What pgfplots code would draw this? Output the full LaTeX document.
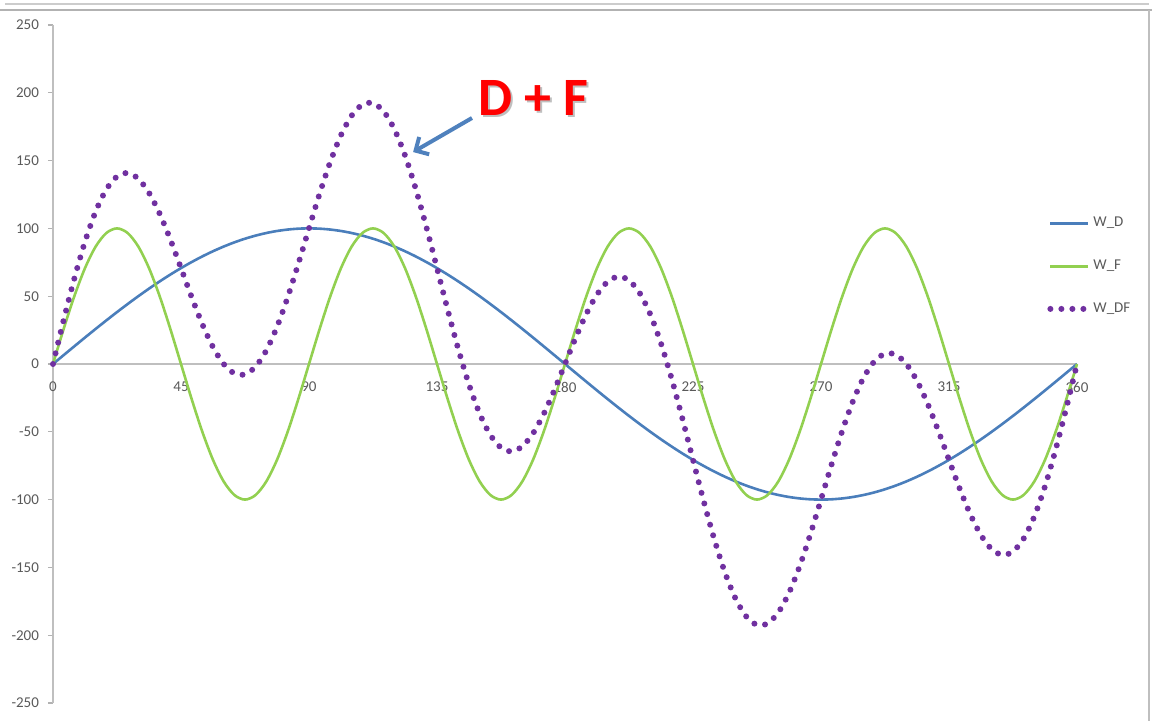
\documentclass[border=0pt]{standalone}
\usepackage{pgfplots}
\pgfplotsset{compat=1.18}
\usepackage{pgfplotstable}
\usepackage{fontspec}
\setmainfont{Carlito}
\usetikzlibrary{arrows.meta}

\definecolor{wdblue}{HTML}{4A7EBB}
\definecolor{wfgreen}{HTML}{92D050}
\definecolor{wdfpurple}{HTML}{7030A0}
\definecolor{arrowblue}{HTML}{4F81BD}
\definecolor{ticktext}{HTML}{595959}

% x in degrees, W_D, W_F and their sum W_DF
\pgfplotstableread{
x D F DF
0 0 0 0
3.75 6.54 25.88 32.42
7.5 13.05 50 63.05
11.25 19.51 70.71 90.22
15 25.88 86.60 112.48
18.75 32.14 96.59 128.73
22.5 38.27 100 138.27
26.25 44.23 96.59 140.82
30 50 86.60 136.60
33.75 55.56 70.71 126.27
37.5 60.88 50 110.88
41.25 65.94 25.88 91.82
45 70.71 0 70.71
48.75 75.18 -25.88 49.30
52.5 79.34 -50 29.34
56.25 83.15 -70.71 12.44
60 86.60 -86.60 0
63.75 89.69 -96.59 -6.90
67.5 92.39 -100 -7.61
71.25 94.69 -96.59 -1.90
75 96.59 -86.60 9.99
78.75 98.08 -70.71 27.37
82.5 99.14 -50 49.14
86.25 99.79 -25.88 73.91
90 100 0 100
93.75 99.79 25.88 125.67
97.5 99.14 50 149.14
101.25 98.08 70.71 168.79
105 96.59 86.60 183.19
108.75 94.69 96.59 191.28
112.5 92.39 100 192.39
116.25 89.69 96.59 186.28
120 86.60 86.60 173.20
123.75 83.15 70.71 153.86
127.5 79.34 50 129.34
131.25 75.18 25.88 101.06
135 70.71 0 70.71
138.75 65.94 -25.88 40.06
142.5 60.88 -50 10.88
146.25 55.56 -70.71 -15.15
150 50 -86.60 -36.60
153.75 44.23 -96.59 -52.36
157.5 38.27 -100 -61.73
161.25 32.14 -96.59 -64.45
165 25.88 -86.60 -60.72
168.75 19.51 -70.71 -51.20
172.5 13.05 -50 -36.95
176.25 6.54 -25.88 -19.34
180 0 0 0
183.75 -6.54 25.88 19.34
187.5 -13.05 50 36.95
191.25 -19.51 70.71 51.20
195 -25.88 86.60 60.72
198.75 -32.14 96.59 64.45
202.5 -38.27 100 61.73
206.25 -44.23 96.59 52.36
210 -50 86.60 36.60
213.75 -55.56 70.71 15.15
217.5 -60.88 50 -10.88
221.25 -65.94 25.88 -40.06
225 -70.71 0 -70.71
228.75 -75.18 -25.88 -101.06
232.5 -79.34 -50 -129.34
236.25 -83.15 -70.71 -153.86
240 -86.60 -86.60 -173.20
243.75 -89.69 -96.59 -186.28
247.5 -92.39 -100 -192.39
251.25 -94.69 -96.59 -191.28
255 -96.59 -86.60 -183.19
258.75 -98.08 -70.71 -168.79
262.5 -99.14 -50 -149.14
266.25 -99.79 -25.88 -125.67
270 -100 0 -100
273.75 -99.79 25.88 -73.91
277.5 -99.14 50 -49.14
281.25 -98.08 70.71 -27.37
285 -96.59 86.60 -9.99
288.75 -94.69 96.59 1.90
292.5 -92.39 100 7.61
296.25 -89.69 96.59 6.90
300 -86.60 86.60 0
303.75 -83.15 70.71 -12.44
307.5 -79.34 50 -29.34
311.25 -75.18 25.88 -49.30
315 -70.71 0 -70.71
318.75 -65.94 -25.88 -91.82
322.5 -60.88 -50 -110.88
326.25 -55.56 -70.71 -126.27
330 -50 -86.60 -136.60
333.75 -44.23 -96.59 -140.82
337.5 -38.27 -100 -138.27
341.25 -32.14 -96.59 -128.73
345 -25.88 -86.60 -112.48
348.75 -19.51 -70.71 -90.22
352.5 -13.05 -50 -63.05
356.25 -6.54 -25.88 -32.42
360 0 0 0
}\wavedata

\begin{document}
\begin{tikzpicture}
\begin{axis}[
    at={(0,0)}, anchor=south west,
    scale only axis,
    width=512pt, height=339pt,
    xmin=0, xmax=360,
    ymin=-250, ymax=250,
    axis x line=middle,
    axis y line=left,
    axis line style={-, draw=black!25, line width=0.8pt},
    hide obscured x ticks=false,
    hide obscured y ticks=false,
    xtick={0,45,...,360},
    ytick={-250,-200,...,250},
    major x tick style={draw=none},
    major y tick style={draw=black!30, line width=0.6pt},
    tick align=outside,
    major tick length=2.5pt,
    tick label style={font=\fontsize{7.5}{9}\selectfont, text=ticktext},
    x tick label style={yshift=-3pt},
    y tick label style={xshift=-1pt},
    /pgf/number format/assume math mode=true,
    clip=false,
    legend style={
        at={(0.9707,0.7198)}, anchor=north west,
        draw=none, fill=none, inner sep=0pt,
        row sep=13pt,
        font=\fontsize{7.5}{9}\selectfont,
        text=ticktext,
        nodes={inner sep=1pt, anchor=west},
    },
    legend cell align=left,
    legend image code/.code={\draw[#1] (0pt,0pt) -- (19pt,0pt);},
]
\addplot[wdblue, line width=1.3pt, smooth] table[x=x, y=D] {\wavedata};
\addlegendentry{W\_D}
\addplot[wfgreen, line width=1.3pt, smooth] table[x=x, y=F] {\wavedata};
\addlegendentry{W\_F}
\addplot[wdfpurple, line width=3pt, line cap=round, dash pattern=on 0pt off 5.5pt, smooth] table[x=x, y=DF] {\wavedata};
\addlegendentry{W\_DF}

% annotation
\node[text=black!25, font=\bfseries\fontsize{27}{30}\selectfont] at ([shift={(1pt,-1pt)}]axis cs:168.8,196.2) {D + F};
\node[text=red, font=\bfseries\fontsize{27}{30}\selectfont] at (axis cs:168.8,196.2) {D + F};
\draw[arrowblue, line width=2pt, -{Straight Barb[length=5pt, width=10pt]}]
    (axis cs:147.3,181.4) -- (axis cs:126.6,156.3);
\end{axis}

% window frame
\draw[black!30, line width=1pt] (-26.5pt,346.5pt) -- (549.5pt,346.5pt);
\draw[black!20, line width=1pt] (-24pt,349.5pt) -- (548pt,349.5pt);
\draw[black!25, line width=0.8pt] (548pt,346.5pt) -- (548pt,-9pt);

\pgfresetboundingbox
\path (-26.5pt,-9pt) rectangle (549.5pt,351.5pt);
\end{tikzpicture}
\end{document}
